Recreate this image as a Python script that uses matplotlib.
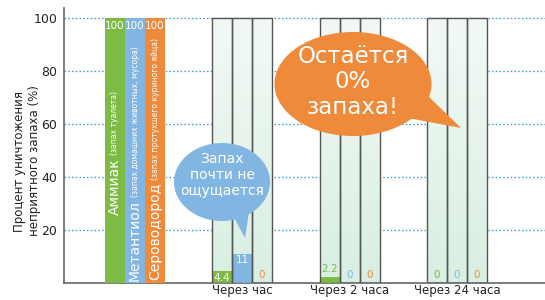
#!/usr/bin/env python3
"""Odour removal chart: initial levels vs. after 1 h / 2 h / 24 h."""

import numpy as np
import matplotlib

matplotlib.use("Agg")
import matplotlib.pyplot as plt  # noqa: E402
from matplotlib.colors import LinearSegmentedColormap  # noqa: E402
from matplotlib.patches import Ellipse, Polygon  # noqa: E402

plt.rcParams["font.family"] = ["DejaVu Sans"]

# data
gases = ["Аммиак", "Метантиол", "Сероводород"]
gas_notes = ["(запах туалета)", "(запах домашних животных, мусора)", "(запах протухшего куриного яйца)"]
initial = [100, 100, 100]
time_labels = ["Через час", "Через 2 часа", "Через 24 часа"]
after_1h = [4.4, 11, 0]
after_2h = [2.2, 0, 0]
after_24h = [0, 0, 0]
y_ticks = [20, 40, 60, 80, 100]

GREEN = "#7dbb45"
BLUE = "#82b6e2"
ORANGE = "#ef8a3a"
colors = [GREEN, BLUE, ORANGE]
fill_cmap = LinearSegmentedColormap.from_list("fill", ["#d9efe2", "#f2f9f5"])

W, H = 545, 300
fig = plt.figure(figsize=(W / 100, H / 100), dpi=100)
ax = fig.add_axes([64 / W, 17 / H, 481 / W, 275 / H])

# group layout (bar width = 1 unit)
group_starts = [2.05, 7.4, 12.8, 18.15]

for y in y_ticks:
    ax.axhline(y, color="#2a9de0", lw=0.9, ls=(0, (1.2, 1.8)), zorder=1)

# initial coloured bars
x0 = [group_starts[0] + i + 0.5 for i in range(3)]
ax.bar(x0, initial, width=1.0, color=colors, zorder=3)
for x, v in zip(x0, initial):
    ax.text(x, v - 1, f"{v}", color="white", fontsize=7.5, ha="center", va="top", zorder=5)

# later groups: outlined boxes (soft gradient) with small bars
grad = np.linspace(0, 1, 64).reshape(-1, 1)
for start, vals in zip(group_starts[1:], [after_1h, after_2h, after_24h]):
    xs = [start + i + 0.5 for i in range(3)]
    for x in xs:
        ax.imshow(grad, cmap=fill_cmap, origin="lower", aspect="auto",
                  extent=(x - 0.5, x + 0.5, 0, 100), zorder=2)
    ax.bar(xs, [100] * 3, width=1.0, facecolor="none", edgecolor="#555555", linewidth=1.0, zorder=4)
    ax.bar(xs, vals, width=1.0, color=colors, zorder=3)
    for x, v, c in zip(xs, vals, colors):
        lbl = f"{v:g}"
        if v >= 4:
            ax.text(x, v - 0.5, lbl, color="white", fontsize=7.5, ha="center", va="top", zorder=5)
        else:
            ax.text(x, v + 1.2, lbl, color=c, fontsize=7.5, ha="center", va="bottom", zorder=5)

ax.set_xlim(0, 24.05)
ax.set_ylim(0, 103.8)

# rotated names inside initial bars
fig.canvas.draw()
rend = fig.canvas.get_renderer()
name_start = [25.7, 0.8, 1.0]
inv = ax.transData.inverted()
for x, name, note, y0 in zip(x0, gases, gas_notes, name_start):
    t = ax.text(x, y0, name, rotation=90, rotation_mode="anchor", ha="left", va="center",
                color="white", fontsize=10, zorder=5)
    bb = t.get_window_extent(rend)
    y_end = inv.transform((0, bb.y1))[1]
    ax.text(x, y_end + 1.2, note, rotation=90, rotation_mode="anchor", ha="left", va="center",
            color="white", fontsize=5.5, zorder=5)

ax.set_yticks(y_ticks)
ax.set_yticklabels([str(v) for v in y_ticks], fontsize=9, color="#222222")
ax.tick_params(axis="y", length=0, pad=5)
ax.set_xticks([s + 1.5 for s in group_starts[1:]])
ax.set_xticklabels(time_labels, fontsize=8.5, color="#222222")
ax.tick_params(axis="x", length=0, pad=1)
for side in ["top", "right"]:
    ax.spines[side].set_visible(False)
for side in ["left", "bottom"]:
    ax.spines[side].set_color("#666666")
    ax.spines[side].set_linewidth(1.2)
fig.text(27 / W, 1 - 161 / H, "Процент уничтожения\nнеприятного запаха (%)", rotation=90,
         fontsize=8.5, color="#222222", ha="center", va="center", linespacing=1.15)

# speech bubbles in pixel space
ov = fig.add_axes([0, 0, 1, 1])
ov.set_xlim(0, W)
ov.set_ylim(H, 0)
ov.axis("off")
ov.patch.set_alpha(0)

ov.add_patch(Ellipse((222, 182), 96, 78, color=BLUE, lw=0))
ov.add_patch(Polygon([(231, 212), (249, 212), (245, 238)], color=BLUE, lw=0))
ov.text(222, 175, "Запах\nпочти не\nощущается", color="white", fontsize=10, ha="center",
        va="center", linespacing=1.2)

ov.add_patch(Ellipse((353, 84), 157, 104, color=ORANGE, lw=0))
ov.add_patch(Polygon([(408, 118), (427, 95), (461, 128)], color=ORANGE, lw=0))
ov.text(353, 82, "Остаётся\n0%\nзапаха!", color="white", fontsize=16.5, ha="center",
        va="center", linespacing=1.12)

fig.savefig("out.png", dpi=100)
